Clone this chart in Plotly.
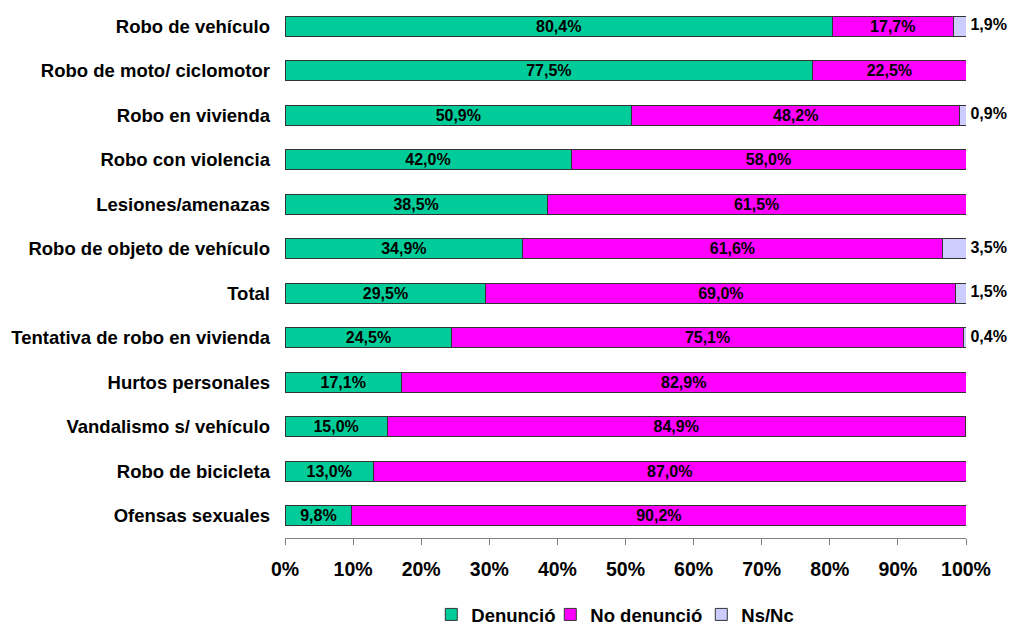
import plotly.graph_objects as go

categories = ["Robo de vehículo", "Robo de moto/ ciclomotor", "Robo en vivienda",
              "Robo con violencia", "Lesiones/amenazas", "Robo de objeto de vehículo",
              "Total", "Tentativa de robo en vivienda", "Hurtos personales",
              "Vandalismo s/ vehículo", "Robo de bicicleta", "Ofensas sexuales"]
denuncio = [80.4, 77.5, 50.9, 42.0, 38.5, 34.9, 29.5, 24.5, 17.1, 15.0, 13.0, 9.8]
no_denuncio = [17.7, 22.5, 48.2, 58.0, 61.5, 61.6, 69.0, 75.1, 82.9, 84.9, 87.0, 90.2]
nsnc = [1.9, 0.0, 0.9, 0.0, 0.0, 3.5, 1.5, 0.4, 0.0, 0.0, 0.0, 0.0]
tick_vals = [0, 10, 20, 30, 40, 50, 60, 70, 80, 90, 100]
tick_text = [f"{v}%" for v in tick_vals]


def fmt(v):
    return f"{v:.1f}%".replace(".", ",") if v > 0 else ""


FONT = "Liberation Sans"
series = [
    ("Denunció", denuncio, "#00CC99", True, 74),
    ("No denunció", no_denuncio, "#FF00FF", True, 106),
    ("Ns/Nc", nsnc, "#CCCCFF", False, 53),
]

fig = go.Figure()
for name, vals, color, labelled, lw in series:
    fig.add_trace(go.Bar(
        y=categories, x=vals, name=name, orientation="h",
        marker=dict(color=color, line=dict(color="#333333", width=1)),
        text=[fmt(v) for v in vals] if labelled else None,
        textposition="inside" if labelled else "none",
        insidetextanchor="middle", constraintext="none",
        textfont=dict(family=FONT, size=16, color="black", weight="bold"),
        cliponaxis=False, legendwidth=lw,
    ))

# Ns/Nc labels placed at the end of each stacked bar
ends = [round(d + n + s, 1) for d, n, s in zip(denuncio, no_denuncio, nsnc)]
fig.add_trace(go.Scatter(
    y=categories, x=ends, mode="text", text=[" " + fmt(v) for v in nsnc],
    textposition="middle right", showlegend=False, hoverinfo="skip",
    textfont=dict(family=FONT, size=16, color="black", weight="bold"),
    cliponaxis=False,
))

fig.update_layout(
    barmode="stack", bargap=0.55,
    width=1014, height=625,
    margin=dict(l=285, r=48, t=4, b=87, autoexpand=False),
    plot_bgcolor="white", paper_bgcolor="white",
    font=dict(family=FONT, color="black"),
    showlegend=True,
    legend=dict(orientation="h", x=0.485, xanchor="center", xref="paper",
                y=-0.144, yanchor="middle",
                font=dict(family=FONT, size=18.5, color="black", weight="bold"),
                itemwidth=30, traceorder="normal"),
)
fig.update_xaxes(range=[0, 100], tickvals=tick_vals, ticktext=tick_text,
                 showgrid=False, zeroline=False,
                 showline=True, linecolor="#808080", linewidth=1,
                 ticks="outside", ticklen=6, tickcolor="#808080",
                 ticklabelstandoff=8,
                 tickfont=dict(family=FONT, size=19.5, color="black", weight="bold"))
fig.update_yaxes(categoryorder="array", categoryarray=categories,
                 range=[len(categories) - 0.5, -0.5],
                 showgrid=False, showline=False,
                 ticks="", ticklabelstandoff=14,
                 tickfont=dict(family=FONT, size=18.5, color="black", weight="bold"))

fig.write_html("out.html", post_script="document.body.style.margin='0';",
               config={"displayModeBar": False})
